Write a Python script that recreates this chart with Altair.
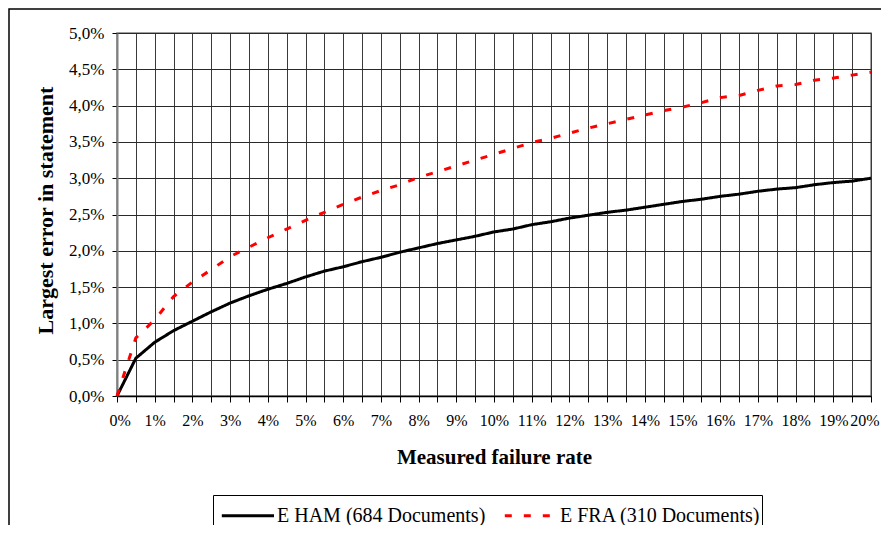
import altair as alt
import pandas as pd

# Measured failure rate (%)
x_vals = [0, 0.5, 1, 1.5, 2, 2.5, 3, 3.5, 4, 4.5, 5, 5.5, 6, 6.5, 7, 7.5, 8, 8.5, 9, 9.5,
          10, 10.5, 11, 11.5, 12, 12.5, 13, 13.5, 14, 14.5, 15, 15.5, 16, 16.5, 17, 17.5,
          18, 18.5, 19, 19.5, 20]
# Largest error in statement (%)
ham_vals = [0.0, 0.52, 0.74, 0.90, 1.03, 1.16, 1.28, 1.38, 1.47, 1.55, 1.64, 1.72, 1.78,
            1.85, 1.91, 1.98, 2.04, 2.10, 2.15, 2.20, 2.26, 2.30, 2.36, 2.40, 2.45, 2.49,
            2.53, 2.56, 2.60, 2.64, 2.68, 2.71, 2.75, 2.78, 2.82, 2.85, 2.87, 2.91, 2.94,
            2.96, 3.00]
fra_vals = [0.0, 0.80, 1.05, 1.37, 1.57, 1.74, 1.92, 2.05, 2.18, 2.30, 2.42, 2.53, 2.64,
            2.74, 2.83, 2.91, 3.01, 3.09, 3.17, 3.25, 3.33, 3.41, 3.49, 3.55, 3.62, 3.69,
            3.75, 3.81, 3.87, 3.93, 3.98, 4.04, 4.11, 4.14, 4.21, 4.27, 4.29, 4.35, 4.38,
            4.42, 4.46]
series_names = ["E HAM (684 Documents)", "E FRA (310 Documents)"]
y_ticks = [0, 0.5, 1, 1.5, 2, 2.5, 3, 3.5, 4, 4.5, 5]

rows = []
for xv, hv in zip(x_vals, ham_vals):
    rows.append({"x": xv, "y": hv, "series": series_names[0]})
for xv, fv in zip(x_vals, fra_vals):
    rows.append({"x": xv, "y": fv, "series": series_names[1]})
df = pd.DataFrame(rows)

FONT = "Liberation Serif"
LEGEND_SYMBOL = "M-0.65,0H2.25"

x_axis = alt.Axis(
    values=x_vals,
    labelExpr="datum.value % 1 == 0 ? datum.value + '%' : ''",
    title="Measured failure rate",
    titleFont=FONT, titleFontSize=21, titleFontWeight="bold", titleColor="black",
    titlePadding=18,
    labelFont=FONT, labelFontSize=16, labelColor="black", labelPadding=10,
    labelFlush=True, labelFlushOffset=8, labelOverlap=False,
    tickColor="black", tickSize=6, domainColor="black", domainWidth=1.5,
    grid=True, gridColor="#3a3a3a", gridWidth=1,
)
y_axis = alt.Axis(
    values=y_ticks,
    labelExpr="replace(format(datum.value, '.1f'), '.', ',') + '%'",
    title="Largest error in statement",
    titleFont=FONT, titleFontSize=22, titleFontWeight="bold", titleColor="black",
    titleAngle=270, titleAlign="center", titleBaseline="middle",
    titleX=-72, titleY=177,
    labelFont=FONT, labelFontSize=17, labelColor="black", labelPadding=8,
    tickColor="black", tickSize=5, domainColor="#808080", domainWidth=2,
    grid=True, gridColor="#2a2a2a", gridWidth=1,
)

frame = alt.Chart(pd.DataFrame({"a": [0]})).mark_rect(
    fill=None, stroke="black", strokeWidth=1.5
).encode(
    x=alt.value(-108), x2=alt.value(800), y=alt.value(-24), y2=alt.value(520)
)

legend = alt.Legend(title=None, symbolType=LEGEND_SYMBOL)

lines = alt.Chart(df).mark_line(strokeWidth=3).encode(
    x=alt.X("x:Q", scale=alt.Scale(domain=[0, 20], nice=False), axis=x_axis),
    y=alt.Y("y:Q", scale=alt.Scale(domain=[0, 5], nice=False), axis=y_axis),
    color=alt.Color("series:N", scale=alt.Scale(domain=series_names, range=["black", "#ff0000"]),
                    legend=legend),
    strokeDash=alt.StrokeDash("series:N", scale=alt.Scale(domain=series_names, range=[[1, 0], [7, 12]]),
                              legend=legend),
    order="x:Q",
)

chart = alt.layer(frame, lines).properties(
    width=754, height=363,
    autosize=alt.AutoSizeParams(type="none"),
    padding={"left": 109, "top": 25, "right": 10, "bottom": 129},
    background="white",
).configure_view(
    stroke="#808080", strokeWidth=1.5
).configure_legend(
    orient="none", legendX=96, legendY=462, direction="horizontal",
    symbolType=LEGEND_SYMBOL, symbolSize=1296, symbolStrokeWidth=3,
    labelFont=FONT, labelFontSize=20, labelColor="black", labelOffset=24,
    labelLimit=400, columnPadding=11, padding=1,
    strokeColor="black", fillColor="white",
)

chart.save("out.html", embed_options={"renderer": "svg", "actions": False})
